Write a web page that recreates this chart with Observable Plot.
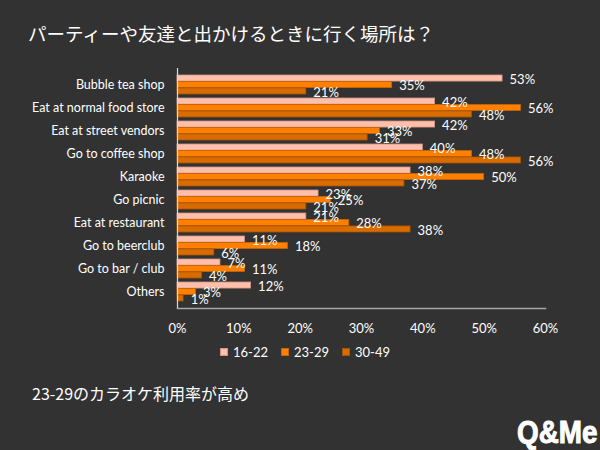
<!DOCTYPE html>
<html><head><meta charset="utf-8">
<script src="https://cdn.jsdelivr.net/npm/d3@7"></script>
<script src="https://cdn.jsdelivr.net/npm/@observablehq/plot@0.6"></script>
<style>
html,body{margin:0;padding:0;background:#323232;width:600px;height:450px;overflow:hidden;}
#wrap{position:relative;width:600px;height:450px;}
#title{height:58px;box-sizing:border-box;padding-left:28px;padding-top:20px;font-family:"Noto Sans CJK JP";font-size:18.5px;color:#fff;line-height:26px;white-space:nowrap;}
#chart{height:284px;}
#legend{height:20px;display:flex;align-items:center;padding-left:220px;font-family:Lato;font-size:13px;color:#fff;}
#legend .item{display:flex;align-items:center;margin-right:13px;}
#legend .sw{width:8px;height:8px;margin-right:5px;box-sizing:border-box;}
#caption{position:absolute;left:32px;top:380px;font-family:"Noto Sans CJK JP";font-size:16px;line-height:26px;color:#fff;white-space:nowrap;}
#logo{position:absolute;right:3px;top:413.5px;font-family:"Liberation Sans";font-weight:bold;font-size:32px;color:#fff;line-height:normal;white-space:nowrap;transform:scaleX(0.87);transform-origin:right center;-webkit-text-stroke:1px #fff;}
</style></head>
<body><div id="wrap">
<div id="title">パーティーや友達と出かけるときに行く場所は？</div>
<div id="chart"></div>
<div id="legend"></div>
<div id="caption">23-29のカラオケ利用率が高め</div>
<div id="logo">Q&amp;Me</div>
</div>
<script>
const categories = ["Bubble tea shop","Eat at normal food store","Eat at street vendors","Go to coffee shop","Karaoke","Go picnic","Eat at restaurant","Go to beerclub","Go to bar / club","Others"];
const seriesNames = ["16-22","23-29","30-49"];
const s1622 = [53,42,42,40,38,23,21,11,7,12];
const s2329 = [35,56,33,48,50,25,28,18,11,3];
const s3049 = [21,48,31,56,37,21,38,6,4,1];
const xTicks = [0,10,20,30,40,50,60];

const colors = ["#FFBFAA","#FF8000","#D96C00"];
const strokes = ["#d09585","#c96500","#a85400"];
const seriesValues = [s1622, s2329, s3049];

const H = 284, mTop = 10, mBottom = 34;
const pIn = 0.19, pOut = 0.1;
const step = (H - mTop - mBottom) / (categories.length - pIn + 2 * pOut);
const bw = step * (1 - pIn);
const bh = bw / 3;

const marks = [];
seriesValues.forEach((vals, k) => {
  const data = categories.map((c, i) => ({category: c, value: vals[i]}));
  marks.push(Plot.barX(data, {
    x: "value", y: "category",
    fill: colors[k], stroke: strokes[k], strokeWidth: 0.8,
    insetTop: k * bh, insetBottom: (2 - k) * bh
  }));
});
seriesValues.forEach((vals, k) => {
  const data = categories.map((c, i) => ({category: c, value: vals[i]}));
  marks.push(Plot.text(data, {
    x: "value", y: "category", text: d => d.value + "%",
    textAnchor: "start", dx: 7, dy: (k - 1) * bh + 1,
    fill: "white", fontSize: 13
  }));
});
marks.push(Plot.frame({anchor: "bottom", stroke: "#a6a6a6", strokeWidth: 1.5}));
marks.push(Plot.ruleX([0], {stroke: "#d9d9d9", strokeWidth: 1.2}));
marks.push(Plot.axisX({ticks: xTicks, tickFormat: d => d + "%", tickSize: 0, tickPadding: 15, fontSize: 13, fill: "white", label: null}));
marks.push(Plot.axisY({tickSize: 0, tickPadding: 13, fontSize: 12.5, fill: "white", label: null}));

const chart = Plot.plot({
  width: 600, height: H,
  marginLeft: 177, marginRight: 55, marginTop: mTop, marginBottom: mBottom,
  style: {background: "transparent", color: "white", fontFamily: "Lato", fontSize: "13px", overflow: "visible"},
  x: {domain: [0, 60]},
  y: {domain: categories, paddingInner: pIn, paddingOuter: pOut},
  marks
});
document.getElementById("chart").appendChild(chart);

const legend = document.getElementById("legend");
seriesNames.forEach((n, k) => {
  const it = document.createElement("div");
  it.className = "item";
  const sw = document.createElement("div");
  sw.className = "sw";
  sw.style.background = colors[k];
  sw.style.border = "1px solid " + strokes[k];
  const t = document.createElement("span");
  t.textContent = n;
  it.appendChild(sw); it.appendChild(t);
  legend.appendChild(it);
});
</script>
</body></html>
